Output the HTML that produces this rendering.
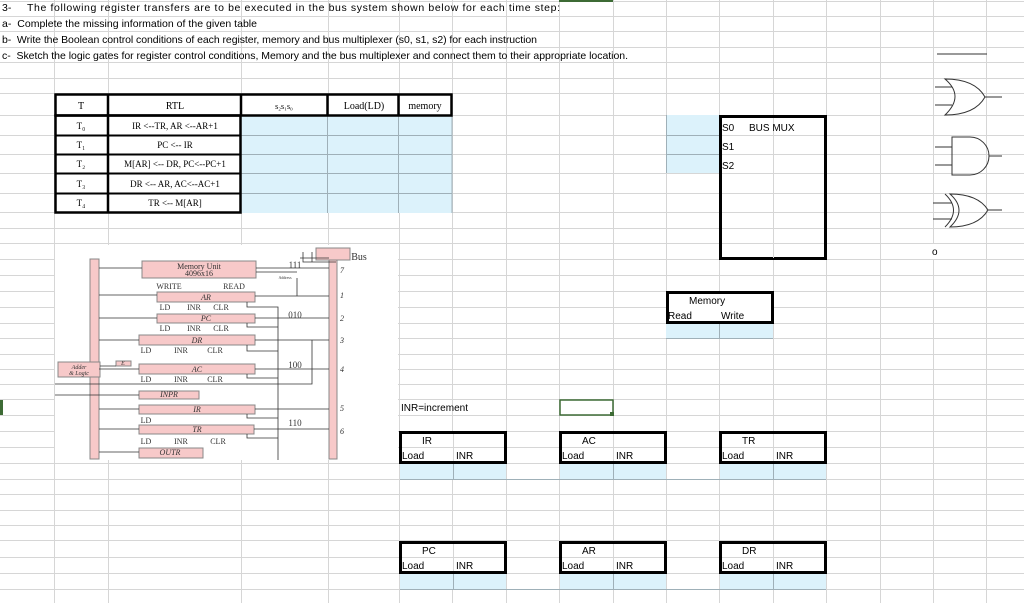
<!DOCTYPE html>
<html><head><meta charset="utf-8"><style>
html,body{margin:0;padding:0;background:#fff;}
svg{display:block;}
.c{font-family:"Liberation Sans",sans-serif;font-size:10px;fill:#000;}
.h{font-family:"Liberation Sans",sans-serif;font-size:10.5px;fill:#000;white-space:pre;}
.s{font-family:"Liberation Serif",serif;font-size:10px;fill:#000;}
.d{font-family:"Liberation Serif",serif;font-size:8px;fill:#333;}
.di{font-family:"Liberation Serif",serif;font-size:8px;fill:#333;font-style:italic;}
</style></head><body>
<svg width="1024" height="603" viewBox="0 0 1024 603" xmlns="http://www.w3.org/2000/svg">
<g stroke="#d6d6d6" stroke-width="1">
<path d="M0 1.5H1024M0 16.5H1024M0 31.5H1024M0 47.5H1024M0 62.5H1024M0 78.5H1024M0 93.5H1024M0 115.5H1024M0 135.5H1024M0 154.5H1024M0 173.5H1024M0 193.5H1024M0 212.5H1024M0 228.5H1024M0 243.5H1024M0 259.5H1024M0 275.5H1024M0 291.5H1024M0 307.5H1024M0 323.5H1024M0 338.5H1024M0 354.5H1024M0 369.5H1024M0 384.5H1024M0 399.5H1024M0 415.5H1024M0 431.5H1024M0 447.5H1024M0 463.5H1024M0 479.5H1024M0 494.5H1024M0 510.5H1024M0 525.5H1024M0 540.5H1024M0 557.5H1024M0 573.5H1024M0 589.5H1024"/>
<path d="M54.5 0V603M108.5 0V603M241.5 0V603M328.5 0V603M399.5 0V603M452.5 0V603M506.5 0V603M559.5 0V603M613.5 0V603M666.5 0V603M719.5 0V603M773.5 0V603M826.5 0V603M880.5 0V603M933.5 0V603M986.5 0V603"/>
</g>
<rect x="559" y="0" width="54" height="2" fill="#3d6b35"/>
<rect x="0" y="400" width="3" height="15" fill="#3d6b35"/>
<text class="h" x="2" y="11">3-</text>
<text class="h" x="27" y="11" textLength="533">The following register transfers are to be executed in the bus system shown below for each time step:</text>
<text class="h" x="2" y="27" textLength="255">a-  Complete the missing information of the given table</text>
<text class="h" x="2" y="43" textLength="535">b-  Write the Boolean control conditions of each register, memory and bus multiplexer (s0, s1, s2) for each instruction</text>
<text class="h" x="2" y="59" textLength="626">c-  Sketch the logic gates for register control conditions, Memory and the bus multiplexer and connect them to their appropriate location.</text>
<!-- table -->
<rect x="241" y="115" width="211" height="98" fill="#dcf2fb"/>
<g stroke="#9fb0b8" stroke-width="1"><path d="M241 135.5H452M241 154.5H452M241 173.5H452M241 193.5H452M327.5 115V213M398.5 115V213M452 115V213"/></g>
<g fill="none" stroke="#000">
<rect x="55.5" y="94.5" width="396" height="21" stroke-width="2.5"/>
<path d="M108 94V213M241 94V116M327.5 94V116M398.5 94V116" stroke-width="2.5"/>
<rect x="55.5" y="115.5" width="185" height="97" stroke-width="2.5"/>
<path d="M55 135.5H241M55 154.5H241M55 173.5H241M55 193.5H241" stroke-width="2"/>
</g>
<g class="s" text-anchor="middle">
<text x="81" y="109">T</text><text x="175" y="109">RTL</text><text x="284" y="109" font-size="8">s₂s₁s₀</text><text x="364" y="109">Load(LD)</text><text x="425" y="109">memory</text>
<text x="81" y="129" font-size="9">T₀</text><text x="175" y="129" font-size="9">IR &lt;--TR, AR &lt;--AR+1</text>
<text x="81" y="148" font-size="9">T₁</text><text x="175" y="148" font-size="9">PC &lt;-- IR</text>
<text x="81" y="167" font-size="9">T₂</text><text x="175" y="167" font-size="9">M[AR] &lt;-- DR, PC&lt;--PC+1</text>
<text x="81" y="187" font-size="9">T₃</text><text x="175" y="187" font-size="9">DR &lt;-- AR, AC&lt;--AC+1</text>
<text x="81" y="206" font-size="9">T₄</text><text x="175" y="206" font-size="9">TR &lt;-- M[AR]</text>
</g>
<!-- diagram image -->
<rect x="55" y="245" width="343" height="215" fill="#fff"/>
<g stroke="#888" fill="#f7c9c9">
<rect x="90" y="259" width="9" height="200"/>
<rect x="329" y="260" width="8" height="199"/>
<rect x="142" y="261" width="114" height="17"/>
<rect x="157" y="292" width="98" height="10"/>
<rect x="157" y="314" width="98" height="9"/>
<rect x="139" y="335" width="116" height="10"/>
<rect x="139" y="364" width="116" height="10"/>
<rect x="58" y="362" width="42" height="15"/>
<rect x="116" y="361" width="15" height="5"/>
<rect x="139" y="391" width="60" height="8"/>
<rect x="139" y="405" width="116" height="9"/>
<rect x="139" y="425" width="115" height="9"/>
<rect x="139" y="448" width="64" height="10"/>
<rect x="316" y="248" width="34" height="12"/>
</g>
<g stroke="#333" stroke-width="0.8" fill="none">
<path d="M99 268H142M99 295H157M99 318H157M99 340H139M99 369H139M55 384H312V340M55 395H139M99 409H139M99 429H139M99 452H139M100 366H116"/>
<path d="M256 268H329M255 296H329M255 318H329M255 340H329M255 369H329M255 409H329M254 429H329M297 278V296M256 272H297"/>
<path d="M247 302V307H278V460M247 323V327H278M247 345V351H278M247 374V378H278M247 414V418H278M247 434V438H278"/>
<path d="M303 252V262H336M312 252V262M300 258H329"/>
</g>
<g class="d" text-anchor="middle">
<text x="199" y="269">Memory Unit</text><text x="199" y="276">4096x16</text>
<text x="169" y="289">WRITE</text><text x="234" y="289">READ</text>
<text x="165" y="310">LD</text><text x="194" y="310">INR</text><text x="221" y="310">CLR</text>
<text x="165" y="331">LD</text><text x="194" y="331">INR</text><text x="221" y="331">CLR</text>
<text x="146" y="353">LD</text><text x="181" y="353">INR</text><text x="215" y="353">CLR</text>
<text x="146" y="382">LD</text><text x="181" y="382">INR</text><text x="215" y="382">CLR</text>
<text x="146" y="423">LD</text>
<text x="146" y="444">LD</text><text x="181" y="444">INR</text><text x="218" y="444">CLR</text>
<text x="285" y="279" font-size="4">Address</text>
<text x="295" y="268" font-size="9">111</text><text x="295" y="318" font-size="9">010</text><text x="295" y="368" font-size="9">100</text><text x="295" y="426" font-size="9">110</text>
<text x="359" y="260" font-size="10">Bus</text>
</g>
<g class="di" text-anchor="middle">
<text x="206" y="300">AR</text><text x="206" y="321">PC</text><text x="197" y="343">DR</text><text x="197" y="372">AC</text>
<text x="79" y="369" font-size="6">Adder</text><text x="79" y="375" font-size="6">&amp; Logic</text><text x="123" y="365" font-size="6">E</text>
<text x="169" y="397">INPR</text><text x="197" y="412">IR</text><text x="197" y="432">TR</text><text x="170" y="455">OUTR</text>
<text x="342" y="273">7</text><text x="342" y="298">1</text><text x="342" y="321">2</text><text x="342" y="343">3</text><text x="342" y="372">4</text><text x="342" y="411">5</text><text x="342" y="434">6</text>
</g>
<!-- bus mux -->
<rect x="666" y="115" width="53" height="58" fill="#dcf2fb"/>
<path d="M666 135.5H719M666 154.5H719M666.5 115V173" stroke="#9fb0b8"/>
<rect x="719" y="115" width="54" height="144" fill="#fff"/>
<rect x="720.5" y="116.5" width="105" height="142" fill="none" stroke="#000" stroke-width="3"/>
<path d="M773.5 118V258M722 135.5H824M722 154.5H824M722 173.5H824M722 193.5H824M722 212.5H824M722 228.5H824M722 243.5H824" stroke="#d6d6d6"/>
<text class="c" x="722" y="131">S0</text><text class="c" x="749" y="131">BUS MUX</text>
<text class="c" x="722" y="150">S1</text><text class="c" x="722" y="169">S2</text>
<!-- memory -->
<rect x="667.5" y="292.5" width="105" height="30" fill="#fff" stroke="#000" stroke-width="3"/>
<text class="c" x="689" y="304">Memory</text><text class="c" x="668" y="319">Read</text><text class="c" x="721" y="319">Write</text>
<rect x="666" y="324" width="107" height="15" fill="#dcf2fb"/>
<path d="M719.5 324V339M666 338.5H773" stroke="#9fb0b8"/>
<!-- gates -->
<g fill="none" stroke="#333" stroke-width="1">
<path d="M937 54H987"/>
<path d="M945 79Q965 96 945 115Q975 115 985 97Q975 79 945 79ZM935 87H952M935 105H952M985 97H1002"/>
<path d="M952 137H970A19 19 0 0 1 970 175H952ZM935 147H952M935 165H952M989 156H1002"/>
<path d="M950 194Q968 210 950 227Q978 227 988 210Q978 194 950 194ZM945 194Q962 210 945 227M933 203H952M933 219H952M988 210H1002"/>
</g>
<rect x="929" y="244" width="57" height="15" fill="#fff"/>
<text class="c" x="932" y="255">o</text>
<rect x="560" y="400" width="53" height="15" fill="#fff" stroke="#3d6b35" stroke-width="1.5"/>
<rect x="610" y="412" width="4" height="4" fill="#3d6b35"/>
<text class="c" x="401" y="411">INR=increment</text>
<!-- register boxes -->
<rect x="400" y="464" width="106" height="15" fill="#dcf2fb"/><rect x="560" y="464" width="106" height="15" fill="#dcf2fb"/><rect x="720" y="464" width="106" height="15" fill="#dcf2fb"/>
<rect x="400" y="574" width="106" height="15" fill="#dcf2fb"/><rect x="560" y="574" width="106" height="15" fill="#dcf2fb"/><rect x="720" y="574" width="106" height="15" fill="#dcf2fb"/>
<path d="M453.5 464V479M613.5 464V479M773.5 464V479M453.5 574V589M613.5 574V589M773.5 574V589M400 479.5H826M400 589.5H826" stroke="#9fb0b8"/>
<g fill="#fff" stroke="#000" stroke-width="3">
<rect x="400.5" y="432.5" width="105" height="30"/><rect x="560.5" y="432.5" width="105" height="30"/><rect x="720.5" y="432.5" width="105" height="30"/>
<rect x="400.5" y="542.5" width="105" height="30"/><rect x="560.5" y="542.5" width="105" height="30"/><rect x="720.5" y="542.5" width="105" height="30"/>
</g>
<path d="M402 447.5H504M562 447.5H664M722 447.5H824M402 557.5H504M562 557.5H664M722 557.5H824M453.5 434V461M613.5 434V461M773.5 434V461M453.5 544V571M613.5 544V571M773.5 544V571" stroke="#d6d6d6"/>
<g class="c">
<text x="422" y="444">IR</text><text x="402" y="459">Load</text><text x="456" y="459">INR</text>
<text x="582" y="444">AC</text><text x="562" y="459">Load</text><text x="616" y="459">INR</text>
<text x="742" y="444">TR</text><text x="722" y="459">Load</text><text x="776" y="459">INR</text>
<text x="422" y="554">PC</text><text x="402" y="569">Load</text><text x="456" y="569">INR</text>
<text x="582" y="554">AR</text><text x="562" y="569">Load</text><text x="616" y="569">INR</text>
<text x="742" y="554">DR</text><text x="722" y="569">Load</text><text x="776" y="569">INR</text>
</g>
</svg>
</body></html>
